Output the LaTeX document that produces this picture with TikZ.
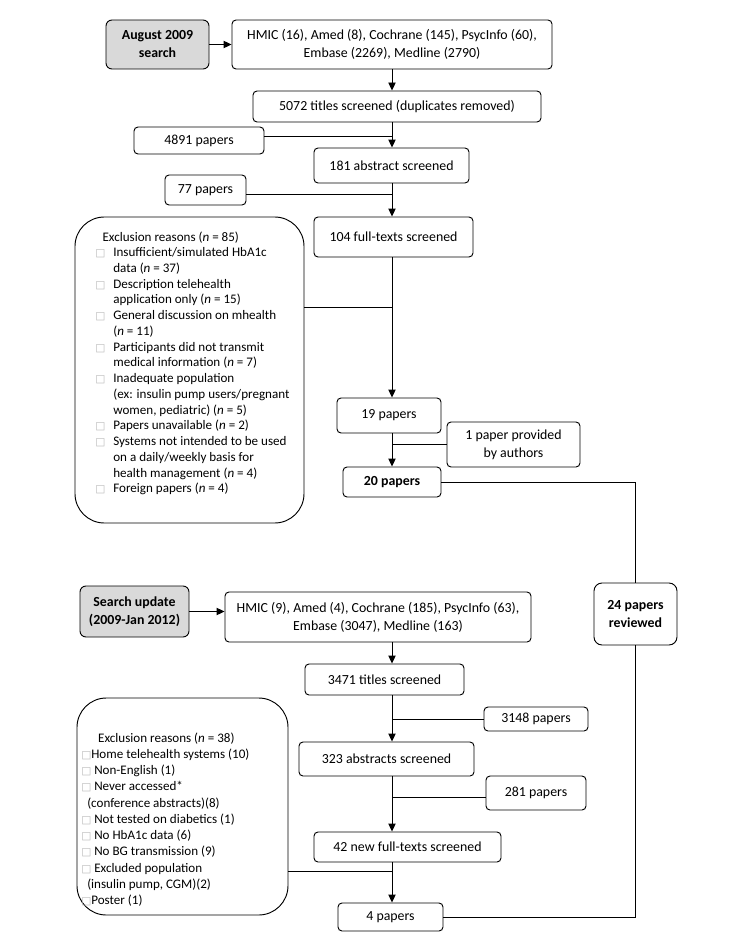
\documentclass[tikz,border=0pt]{standalone}
\usepackage{fontspec}
\setmainfont{Carlito}
\newfontfamily\dejavu{DejaVu Sans}
\usetikzlibrary{positioning,calc,arrows.meta}

\newlength{\pxu}\setlength{\pxu}{0.75pt}
\newcommand{\boxfont}{\fontsize{10.4}{13.5}\selectfont}
\newcommand{\sqbox}{{\dejavu\fontsize{8}{8}\selectfont\color{gray!55}□}}

\tikzset{
  box/.style={draw, line width=0.7pt, rounded corners=3pt, align=center, inner sep=0pt, font=\boxfont},
  srch/.style={box, rounded corners=4.5pt, fill=gray!30, font=\boxfont\bfseries},
  excl/.style={draw, line width=0.7pt, rounded corners=22pt, inner sep=0pt},
  sz/.style 2 args={minimum width=#1\pxu, minimum height=#2\pxu},
  flow/.style={line width=0.7pt, -{Triangle[length=6pt,width=5.5pt]}},
  link/.style={line width=0.7pt},
  note/.style={inner sep=0pt, anchor=base west, font=\fontsize{9.8}{11.8}\selectfont},
}

\begin{document}
\begin{tikzpicture}[x=0.75pt, y=-0.75pt]
    \useasboundingbox (0,0) rectangle (748,949);
    \coordinate (sp) at (392,0);

    % First search (August 2009)
    \node[srch, sz={103}{49}] (srchA) at (157.5,44.5) {August 2009\\search};
    \node[box, sz={320}{49}] (dbA) at (392,44.5) {HMIC (16), Amed (8), Cochrane (145), PsycInfo (60),\\Embase (2269), Medline (2790)};
    \node[box, sz={288}{31}] (titlesA) at (397,106.5) {5072 titles screened (duplicates removed)};
    \node[box, sz={130}{27}] (exA) at (199,140.5) {4891 papers};
    \node[box, sz={155}{35}] (absA) at (391.5,165.5) {181 abstract screened};
    \node[box, sz={81}{30}] (exB) at (205.5,190) {77 papers};
    \node[box, sz={159}{40}] (fullA) at (393.5,237) {104 full-texts screened};
    \node[excl, sz={229}{306}] (exclA) at (189.5,370) {};
    \node[note] (exclAtxt) at (95,241) {\begin{tabular}[t]{@{}l@{\hspace{6pt}}l@{}}
        \multicolumn{2}{@{\hspace{5.5pt}}l@{}}{Exclusion reasons (\textit{n} = 85)}\\
        \sqbox & Insufficient/simulated HbA1c\\
               & data (\textit{n} = 37)\\
        \sqbox & Description telehealth\\
               & application only (\textit{n} = 15)\\
        \sqbox & General discussion on mhealth\\
               & (\textit{n} = 11)\\
        \sqbox & Participants did not transmit\\
               & medical information (\textit{n} = 7)\\
        \sqbox & Inadequate population\\
               & (ex: insulin pump users/pregnant\\
               & women, pediatric) (\textit{n} = 5)\\
        \sqbox & Papers unavailable (\textit{n} = 2)\\
        \sqbox & Systems not intended to be used\\
               & on a daily/weekly basis for\\
               & health management (\textit{n} = 4)\\
        \sqbox & Foreign papers (\textit{n} = 4)
    \end{tabular}};
    \node[box, sz={104}{35}] (p19) at (389,415.5) {19 papers};
    \node[box, sz={133}{45}] (prov) at (513.5,444.5) {1 paper provided\\by authors};
    \node[box, sz={98}{30}, font=\boxfont\bfseries] (p20) at (392,482) {20 papers};

    % Total
    \node[box, rounded corners=6pt, sz={83}{62}, font=\boxfont\bfseries] (rev) at (635.5,614) {24 papers\\reviewed};

    % Search update (2009-Jan 2012)
    \node[srch, sz={109}{51}] (srchB) at (134.5,611.5) {Search update\\(2009-Jan 2012)};
    \node[box, sz={306}{50}] (dbB) at (378,617) {HMIC (9), Amed (4), Cochrane (185), PsycInfo (63),\\Embase (3047), Medline (163)};
    \node[box, sz={159}{31}] (titlesB) at (384.5,679.5) {3471 titles screened};
    \node[box, sz={104}{24}] (exC) at (536,719) {3148 papers};
    \node[box, sz={175}{34}] (absB) at (386.5,759) {323 abstracts screened};
    \node[box, sz={100}{34}] (exD) at (536,793) {281 papers};
    \node[box, sz={187}{30}] (fullB) at (407.5,847) {42 new full-texts screened};
    \node[box, sz={105}{28}] (p4) at (390.5,917) {4 papers};
    \node[excl, sz={211}{217}] (exclB) at (182.5,806.5) {};
    \node[note, font=\fontsize{9.8}{12.2}\selectfont] (exclBtxt) at (81,742) {\begin{tabular}[t]{@{}l@{}}
        \hspace{12.7pt}Exclusion reasons (\textit{n} = 38)\\
        \sqbox Home telehealth systems (10)\\
        \sqbox\ Non-English (1)\\
        \sqbox\ Never accessed*\\
        \hspace{4.5pt}(conference abstracts)(8)\\
        \sqbox\ Not tested on diabetics (1)\\
        \sqbox\ No HbA1c data (6)\\
        \sqbox\ No BG transmission (9)\\
        \sqbox\ Excluded population\\
        \hspace{4.5pt}(insulin pump, CGM)(2)\\
        \sqbox Poster (1)
    \end{tabular}};

    % junctions on the main column
    \coordinate (jA) at (392,307);
    \coordinate (jB) at (392,871);

    % connectors, first search
    \draw[flow] (srchA) -- (dbA);
    \draw[flow] (dbA.south -| sp) -- (titlesA.north -| sp);
    \draw[flow] (titlesA.south -| sp) -- (absA.north -| sp);
    \draw[link] ([yshift=3.3pt]exA.east) -- ([yshift=3.3pt]exA.east -| sp);
    \draw[flow] (absA.south -| sp) -- (fullA.north -| sp);
    \draw[link] ([yshift=-3pt]exB.east) -- ([yshift=-3pt]exB.east -| sp);
    \draw[flow] (fullA.south -| sp) -- (p19.north -| sp);
    \draw[link] (jA -| exclA.east) -- (jA);
    \draw[flow] (p19.south -| sp) -- (p20.north -| sp);
    \draw[link] (prov.west) -- (prov.west -| sp);
    \draw[link] (p20.east) -| (rev.north);

    % connectors, update
    \draw[flow] (srchB.east) -- (srchB.east -| dbB.west);
    \draw[flow] (dbB.south -| sp) -- (titlesB.north -| sp);
    \draw[flow] (titlesB.south -| sp) -- (absB.north -| sp);
    \draw[link] (exC.west) -- (exC.west -| sp);
    \draw[flow] (absB.south -| sp) -- (fullB.north -| sp);
    \draw[link] ([yshift=-3.5pt]exD.west) -- ([yshift=-3.5pt]exD.west -| sp);
    \draw[flow] (fullB.south -| sp) -- (p4.north -| sp);
    \draw[link] (jB -| exclB.east) -- (jB);
    \draw[link] (rev.south) |- (p4.east);
\end{tikzpicture}
\end{document}
